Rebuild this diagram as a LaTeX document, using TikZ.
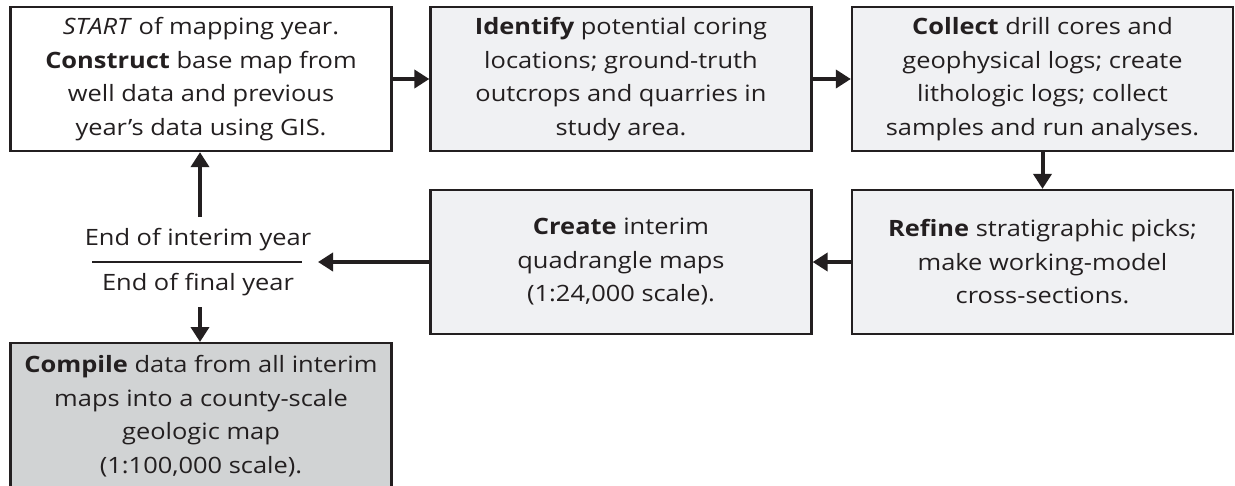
\documentclass[tikz,border=0pt]{standalone}
\usepackage{fontspec}
\setmainfont[FakeStretch=1.13]{Open Sans}
\usetikzlibrary{arrows.meta}
\definecolor{lightbox}{HTML}{F0F1F3}
\definecolor{darkbox}{HTML}{D1D3D4}
\definecolor{ink}{HTML}{231F20}
\tikzset{
  stepbox/.style={draw=ink, line width=2.3pt, fill=lightbox, minimum width=381pt, minimum height=144pt, inner sep=0pt, align=center, text=ink, font=\fontsize{22.5}{33.5}\selectfont},
  finalbox/.style={stepbox, fill=darkbox},
  lbl/.style={inner sep=0pt, text=ink, font=\fontsize{22.5}{33.5}\selectfont},
  flow/.style={draw=ink, line width=4pt, -{Triangle[length=15pt,width=18pt]}}
}
\begin{document}
\begin{tikzpicture}[x=1pt,y=-1pt]
\useasboundingbox (0,0) rectangle (1235,485);
\begin{scope}
\clip (0,0) rectangle (1235,485);
\node[stepbox, fill=white] (b1) at (201,79) {\textit{START} of mapping year.\\\textbf{Construct} base map from\\well data and previous\\year’s data using GIS.};
\node[stepbox] (b2) at (621,79) {\textbf{Identify} potential coring\\locations; ground-truth\\outcrops and quarries in\\study area.};
\node[stepbox] (b3) at (1042.5,79) {\textbf{Collect} drill cores and\\geophysical logs; create\\lithologic logs; collect\\samples and run analyses.};
\node[stepbox] (b4) at (1042.5,262) {\textbf{Refine} stratigraphic picks;\\make working-model\\cross-sections.};
\node[stepbox] (b5) at (621,262) {\textbf{Create} interim\\quadrangle maps\\(1:24,000 scale).};
\node[finalbox, minimum height=146pt, anchor=north] (b6) at (201,342) {\textbf{Compile} data from all interim\\maps into a county-scale\\geologic map\\(1:100,000 scale).};
\end{scope}
\node[lbl] (l1) at (198,240) {End of interim year};
\node[lbl] (l2) at (198,285) {End of final year};
\coordinate (lineL) at (92,262);
\coordinate (lineR) at (302,262);
\draw[ink, line width=1.5pt] (lineL) -- (lineR);
\coordinate (tipL) at (318,262);
\coordinate (upS) at (200,217);
\coordinate (dnS) at (200,307);
\draw[flow] (b1.east) -- (b2.west);
\draw[flow] (b2.east) -- (b3.west);
\draw[flow] (b3.south) -- (b4.north);
\draw[flow] (b4.west) -- (b5.east);
\draw[flow] (b5.west) -- (tipL);
\draw[flow] (upS) -- (upS |- b1.south);
\draw[flow] (dnS) -- (dnS |- b6.north);
\end{tikzpicture}
\end{document}
